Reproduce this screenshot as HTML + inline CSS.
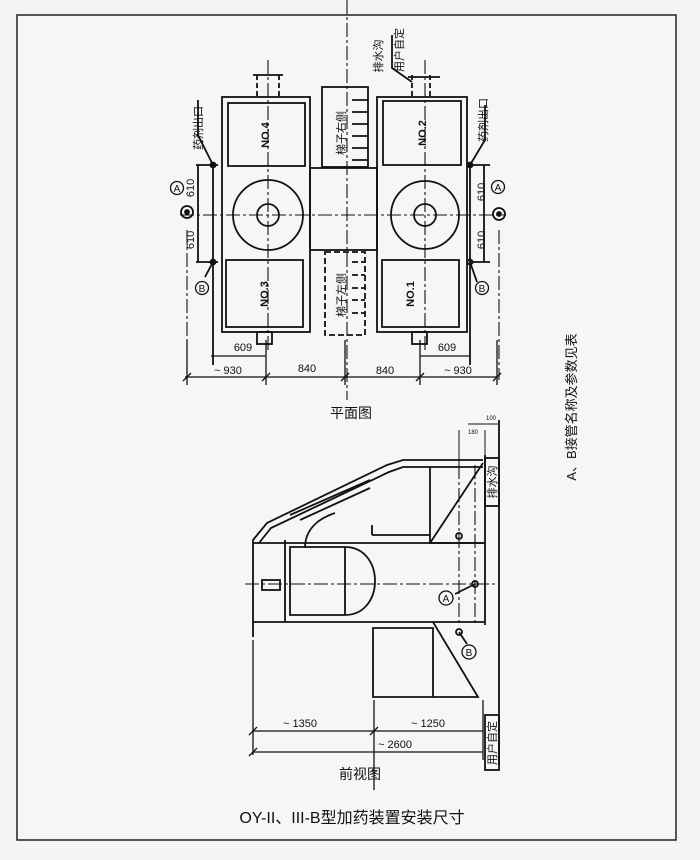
<!DOCTYPE html>
<html><head><meta charset="utf-8"><style>
html,body{margin:0;padding:0;background:#f4f4f2}
svg{display:block}
text{font-family:"Liberation Sans","Noto Sans CJK SC",sans-serif;fill:#111}
</style></head><body>
<svg width="700" height="860" viewBox="0 0 700 860" xmlns="http://www.w3.org/2000/svg">
<rect x="17" y="15" width="659" height="825" fill="#f6f6f4" stroke="#222" stroke-width="1.5"/>
<g stroke="#111" fill="none" stroke-width="1.8">
<rect x="222" y="97" width="88" height="235"/>
<rect x="228" y="103" width="77" height="63"/>
<rect x="226" y="260" width="77" height="67"/>
<rect x="377" y="97" width="90" height="235"/>
<rect x="383" y="101" width="78" height="64"/>
<rect x="382" y="260" width="77" height="67"/>
<circle cx="268" cy="215" r="35"/><circle cx="268" cy="215" r="11"/>
<circle cx="425" cy="215" r="34"/><circle cx="425" cy="215" r="11"/>
<rect x="310" y="168" width="67" height="82"/>
<rect x="322" y="87" width="46" height="80"/>
<path d="M352 100h16M352 112h16M352 124h16M352 136h16M352 148h16M352 160h16"/>
<g stroke-dasharray="6,3"><rect x="325" y="252" width="40" height="83"/>
<path d="M352 262h13M352 275h13M352 288h13M352 300h13M352 313h13"/></g>
<rect x="257" y="332" width="15" height="12"/><rect x="412" y="332" width="15" height="12"/>
<g stroke-dasharray="5,3"><path d="M257 75v22M279 75v22M412 75v22M430 75v22"/></g>
<path d="M253 75h30M408 77h32"/>
<g stroke-width="1.1" stroke-dasharray="14,3,3,3"><path d="M180 215h326M268 60v290M425 60v290M347 0v400M187 230v110M499 230v150"/></g>
<path d="M198 165v97M196 165h22M196 262h22M213 165v200"/>
<circle cx="187" cy="212" r="6"/><circle cx="187" cy="212" r="2" fill="#111"/>
<path d="M213 165l-15-30v-35M213 262l-8 15"/>
<circle cx="213" cy="165" r="2.5" fill="#111"/><circle cx="213" cy="262" r="2.5" fill="#111"/>
<path d="M484 165v97M470 165h20M470 262h20M470 165v200"/>
<circle cx="499" cy="214" r="6"/><circle cx="499" cy="214" r="2" fill="#111"/>
<path d="M470 165l15-25v-35M470 262l7 20"/>
<circle cx="470" cy="165" r="2.5" fill="#111"/><circle cx="470" cy="262" r="2.5"/>
<path d="M392 35v33l20 14"/>
<path d="M211 356h55M420 356h50M185 377h312M187 340v45M266 340v45M345 340v45M420 340v45M497 340v45" stroke-width="1.3"/>
<path d="M183 381l8-8M262 381l8-8M341 381l8-8M416 381l8-8M493 381l8-8" stroke-width="1.3"/>
<path d="M253 637V540l14-17 120-58 16-5h80"/>
<path d="M259 543l12-15 118-56 14-5h80"/>
<path d="M253 543h232M253 622h232M485 455v170"/>
<path d="M499 420v345"/>
<rect x="485" y="458" width="14" height="48"/><rect x="485" y="715" width="14" height="55"/>
<path d="M430 467v76h53M430 543l53-80"/>
<path d="M372 535h58M372 525v10M290 515l80-35M300 520l70-32M305 548c0-20 15-30 30-35"/>
<path d="M290 547h55v68h-55zM345 547c40 0 40 68 0 68"/>
<path d="M285 540v82"/>
<path d="M373 628h60v69h-60zM433 622l45 75h-45v-7"/>
<rect x="262" y="580" width="18" height="10"/>
<g stroke-width="1.1" stroke-dasharray="14,3,3,3"><path d="M245 584h250M459 465v160M475 465v160"/></g>
<circle cx="459" cy="536" r="3"/><circle cx="475" cy="584" r="3"/><circle cx="459" cy="632" r="3"/>
<path d="M475 584l-20 10M459 632l8 12"/>
<path d="M459 430v40M485 430v30M468 424h30" stroke-width="1"/>
<path d="M253 640v115M374 700v90M253 731h230M253 752h230M483 700v60" stroke-width="1.3"/>
<path d="M249 735l8-8M370 735l8-8M249 756l8-8" stroke-width="1.3"/>
</g>
<g font-size="11">
<text x="243" y="351" text-anchor="middle" font-family="Liberation Serif">609</text>
<text x="447" y="351" text-anchor="middle" font-family="Liberation Serif">609</text>
<text x="228" y="374" text-anchor="middle" font-family="Liberation Serif">~ 930</text>
<text x="307" y="372" text-anchor="middle" font-family="Liberation Serif">840</text>
<text x="385" y="374" text-anchor="middle" font-family="Liberation Serif">840</text>
<text x="458" y="374" text-anchor="middle" font-family="Liberation Serif">~ 930</text>
<text x="300" y="727" text-anchor="middle" font-family="Liberation Serif">~ 1350</text>
<text x="428" y="727" text-anchor="middle" font-family="Liberation Serif">~ 1250</text>
<text x="395" y="748" text-anchor="middle" font-family="Liberation Serif">~ 2600</text>
<text x="468" y="434" font-size="6" font-family="Liberation Serif">180</text>
<text x="486" y="420" font-size="6" font-family="Liberation Serif">100</text>
</g>
<g font-size="11" font-weight="bold">
<text transform="translate(269,135) rotate(-90)" text-anchor="middle">NO.4</text>
<text transform="translate(268,294) rotate(-90)" text-anchor="middle">NO.3</text>
<text transform="translate(426,133) rotate(-90)" text-anchor="middle">NO.2</text>
<text transform="translate(414,294) rotate(-90)" text-anchor="middle">NO.1</text>
</g>
<g font-size="11">
<text transform="translate(194,188) rotate(-90)" text-anchor="middle">610</text>
<text transform="translate(194,240) rotate(-90)" text-anchor="middle">610</text>
<text transform="translate(485,192) rotate(-90)" text-anchor="middle">610</text>
<text transform="translate(485,240) rotate(-90)" text-anchor="middle">610</text>
<text transform="translate(202,128) rotate(-90)" text-anchor="middle">药剂出口</text>
<text transform="translate(487,120) rotate(-90)" text-anchor="middle">药剂出口</text>
<text transform="translate(345,133) rotate(-90)" text-anchor="middle">梯子右侧</text>
<text transform="translate(345,295) rotate(-90)" text-anchor="middle">梯子左侧</text>
<text transform="translate(382,56) rotate(-90)" text-anchor="middle">排水沟</text>
<text transform="translate(403,50) rotate(-90)" text-anchor="middle">用户自定</text>
<text transform="translate(496,482) rotate(-90)" text-anchor="middle">排水沟</text>
<text transform="translate(496,743) rotate(-90)" text-anchor="middle">用户自定</text>
<text transform="translate(576,407) rotate(-90)" text-anchor="middle" font-size="13">A、B接管名称及参数见表</text>
</g>
<g font-size="10" text-anchor="middle" stroke="#111" stroke-width="1.3" fill="none">
<circle cx="177" cy="188" r="6.5"/><circle cx="202" cy="288" r="6.5"/>
<circle cx="498" cy="187" r="6.5"/><circle cx="482" cy="288" r="6.5"/>
<circle cx="446" cy="598" r="7"/><circle cx="469" cy="652" r="7"/>
</g>
<g font-size="10" text-anchor="middle">
<text x="177" y="192">A</text><text x="202" y="292">B</text>
<text x="498" y="191">A</text><text x="482" y="292">B</text>
<text x="446" y="602">A</text><text x="469" y="656">B</text>
</g>
<text x="351" y="418" font-size="14" text-anchor="middle">平面图</text>
<text x="360" y="779" font-size="14" text-anchor="middle">前视图</text>
<text x="352" y="823" font-size="16" text-anchor="middle">OY-II、III-B型加药装置安装尺寸</text>
</svg>
</body></html>
